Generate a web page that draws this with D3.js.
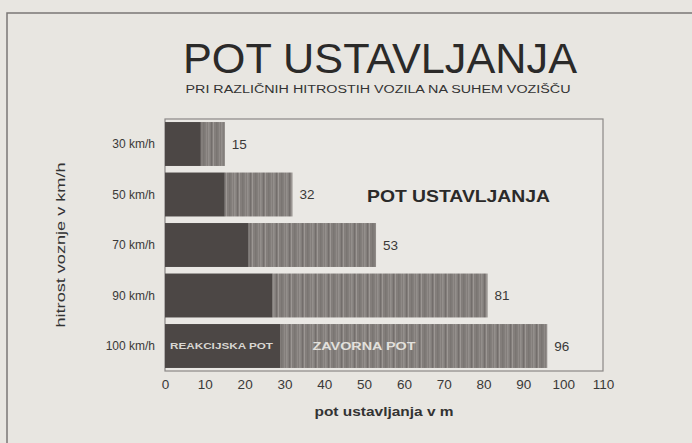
<!DOCTYPE html>
<html>
<head>
<meta charset="utf-8">
<script src="https://cdn.jsdelivr.net/npm/d3@7/dist/d3.min.js"></script>
<style>
  html, body { margin: 0; padding: 0; background: #e8e6e1; }
  svg { display: block; }
  text { font-family: "Liberation Sans", Arial, sans-serif; fill: #333; }
</style>
</head>
<body>
<div id="chart"></div>
<script>
// data
var speeds = ["30 km/h", "50 km/h", "70 km/h", "90 km/h", "100 km/h"];
var reactionDist = [9, 15, 21, 27, 29];   // reakcijska pot
var totalDist = [15, 32, 53, 81, 96];     // pot ustavljanja
var xTicks = [0, 10, 20, 30, 40, 50, 60, 70, 80, 90, 100, 110];

var W = 692, H = 443;
var plot = {left: 165, right: 603, top: 119, bottom: 371};

var svg = d3.select("#chart").append("svg")
    .attr("width", W)
    .attr("height", H);

// striped fill for the braking part
var defs = svg.append("defs");
var pat = defs.append("pattern")
    .attr("id", "stripes")
    .attr("patternUnits", "userSpaceOnUse")
    .attr("width", 13)
    .attr("height", 10);
pat.append("rect").attr("width", 13).attr("height", 10).attr("fill", "#837e7b");
[[0, "#948f8c", 1.5], [3, "#736e6c", 1], [5, "#9c9794", 1], [8, "#7a7572", 1.5], [11, "#8f8a87", 1]].forEach(function(s) {
  pat.append("rect").attr("x", s[0]).attr("width", s[2]).attr("height", 10).attr("fill", s[1]);
});

// outer frame
svg.append("rect")
    .attr("x", 7).attr("y", 13)
    .attr("width", W + 20).attr("height", H + 20)
    .attr("fill", "none")
    .attr("stroke", "#7a7776")
    .attr("stroke-width", 1.5);

// titles
svg.append("text")
    .attr("x", 380).attr("y", 73)
    .attr("text-anchor", "middle")
    .attr("textLength", 394)
    .attr("lengthAdjust", "spacingAndGlyphs")
    .style("font-size", "42px")
    .style("fill", "#2b2a29")
    .text("POT USTAVLJANJA");

svg.append("text")
    .attr("x", 378).attr("y", 93)
    .attr("text-anchor", "middle")
    .attr("textLength", 385)
    .attr("lengthAdjust", "spacingAndGlyphs")
    .style("font-size", "10px")
    .style("fill", "#333")
    .text("PRI RAZLIČNIH HITROSTIH VOZILA NA SUHEM VOZIŠČU");

var x = d3.scaleLinear()
    .domain([0, 110])
    .range([plot.left, plot.right]);

var y = d3.scaleBand()
    .domain(speeds)
    .range([plot.top, plot.bottom])
    .paddingInner(0.13)
    .paddingOuter(0.06);

// plot box
svg.append("rect")
    .attr("x", plot.left).attr("y", plot.top)
    .attr("width", plot.right - plot.left)
    .attr("height", plot.bottom - plot.top)
    .attr("fill", "#eae8e4")
    .attr("stroke", "#8a8786")
    .attr("stroke-width", 1.2);

var rows = speeds.map(function(s, i) {
  return {speed: s, react: reactionDist[i], total: totalDist[i]};
});

var g = svg.selectAll("g.row")
    .data(rows)
  .enter().append("g")
    .attr("class", "row");

// braking part
g.append("rect")
    .attr("x", function(d) { return x(d.react); })
    .attr("y", function(d) { return y(d.speed); })
    .attr("width", function(d) { return x(d.total) - x(d.react); })
    .attr("height", y.bandwidth())
    .attr("fill", "url(#stripes)");

// reaction part
g.append("rect")
    .attr("x", x(0))
    .attr("y", function(d) { return y(d.speed); })
    .attr("width", function(d) { return x(d.react) - x(0); })
    .attr("height", y.bandwidth())
    .attr("fill", "#4c4745");

// value labels
g.append("text")
    .attr("x", function(d) { return x(d.total) + 7; })
    .attr("y", function(d) { return y(d.speed) + y.bandwidth() / 2; })
    .attr("dy", "0.35em")
    .style("font-size", "13.5px")
    .style("fill", "#3a3938")
    .text(function(d) { return d.total; });

// category labels
g.append("text")
    .attr("x", 155)
    .attr("y", function(d) { return y(d.speed) + y.bandwidth() / 2; })
    .attr("dy", "0.35em")
    .attr("text-anchor", "end")
    .style("font-size", "12px")
    .style("fill", "#3a3938")
    .text(function(d) { return d.speed; });

// labels inside the last bar
var last = rows[rows.length - 1];
svg.append("text")
    .attr("x", x(0) + 5)
    .attr("y", y(last.speed) + y.bandwidth() / 2)
    .attr("dy", "0.35em")
    .attr("textLength", 103)
    .attr("lengthAdjust", "spacingAndGlyphs")
    .style("font-size", "9px")
    .style("font-weight", "bold")
    .style("fill", "#d8d6d2")
    .text("REAKCIJSKA POT");

svg.append("text")
    .attr("x", x(last.react) + 32)
    .attr("y", y(last.speed) + y.bandwidth() / 2)
    .attr("dy", "0.35em")
    .attr("textLength", 103)
    .attr("lengthAdjust", "spacingAndGlyphs")
    .style("font-size", "11px")
    .style("font-weight", "bold")
    .style("fill", "#e2e0dc")
    .text("ZAVORNA POT");

// legend-like label
svg.append("text")
    .attr("x", 367).attr("y", 202)
    .attr("textLength", 183)
    .attr("lengthAdjust", "spacingAndGlyphs")
    .style("font-size", "17px")
    .style("font-weight", "bold")
    .style("fill", "#2b2a29")
    .text("POT USTAVLJANJA");

// x axis
var xAxis = d3.axisBottom(x)
    .tickValues(xTicks)
    .tickSize(0)
    .tickPadding(8);

var ax = svg.append("g")
    .attr("transform", "translate(0," + plot.bottom + ")")
    .call(xAxis);
ax.select(".domain").remove();
ax.selectAll("text")
    .style("font-family", "'Liberation Sans', Arial, sans-serif")
    .style("font-size", "13.5px")
    .style("fill", "#3a3938");

svg.append("text")
    .attr("x", (plot.left + plot.right) / 2)
    .attr("y", 416)
    .attr("text-anchor", "middle")
    .attr("textLength", 139)
    .attr("lengthAdjust", "spacingAndGlyphs")
    .style("font-size", "12.5px")
    .style("font-weight", "bold")
    .style("fill", "#333")
    .text("pot ustavljanja v m");

// y axis title
svg.append("text")
    .attr("transform", "translate(65," + ((plot.top + plot.bottom) / 2) + ") rotate(-90)")
    .attr("text-anchor", "middle")
    .attr("textLength", 165)
    .attr("lengthAdjust", "spacingAndGlyphs")
    .style("font-size", "12.5px")
    .style("fill", "#333")
    .text("hitrost voznje v km/h");
</script>
</body>
</html>
